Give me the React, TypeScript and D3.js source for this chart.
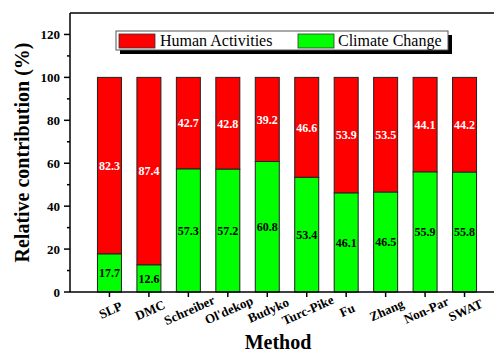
import React, { useEffect } from 'react';
import * as d3 from 'd3';

const methods = ['SLP', 'DMC', 'Schreiber', "Ol'dekop", 'Budyko', 'Turc-Pike', 'Fu', 'Zhang', 'Non-Par', 'SWAT'];
const climate = [17.7, 12.6, 57.3, 57.2, 60.8, 53.4, 46.1, 46.5, 55.9, 55.8];
const human = [82.3, 87.4, 42.7, 42.8, 39.2, 46.6, 53.9, 53.5, 44.1, 44.2];
const yTicks = [0, 20, 40, 60, 80, 100, 120];
const yMinor = [10, 30, 50, 70, 90, 110];

const W = 494;
const H = 352;
const left = 70;
const top = 13;
const bottom = 292;
const serif = 'Liberation Serif';

export default function App() {
  useEffect(() => {
    document.body.style.margin = '0';
  }, []);

  // bars sit at 1..10, the frame runs past the right edge of the picture
  const x = d3.scaleLinear().domain([0, 11]).range([left, 504]);
  const y = d3.scaleLinear().domain([0, 130]).range([bottom, top]);
  const bw = 24;

  return (
    <svg width={W} height={H} style={{ display: 'block' }}>
      <rect width={W} height={H} fill="#fff" />

      {methods.map((m, i) => {
        const cx = x(i + 1);
        const c = climate[i];
        const h = human[i];
        const ly = bottom + 18;
        return (
          <g key={m}>
            <rect x={cx - bw / 2} y={y(c + h)} width={bw} height={y(c) - y(c + h)}
              fill="#ff0000" stroke="#222" strokeWidth={1} />
            <rect x={cx - bw / 2} y={y(c)} width={bw} height={y(0) - y(c)}
              fill="#00ff00" stroke="#222" strokeWidth={1} />
            <text x={cx} y={y(c + h / 2)} dy="0.35em" textAnchor="middle" fontFamily={serif}
              fontSize={12} fontWeight="bold" fill="#fff">{h.toFixed(1)}</text>
            <text x={cx} y={y(c / 2)} dy="0.35em" textAnchor="middle" fontFamily={serif}
              fontSize={12} fontWeight="bold" fill="#000">{c.toFixed(1)}</text>
            <line x1={cx} x2={cx} y1={bottom} y2={bottom + 5} stroke="#000" strokeWidth={1.5} />
            <g transform={`translate(${cx + 1},${ly}) rotate(-24)`}>
              <text dy="0.35em" textAnchor="middle" fontFamily={serif}
                fontSize={13} fontWeight="bold">{m}</text>
            </g>
          </g>
        );
      })}

      {/* axes */}
      <line x1={left} x2={W} y1={top} y2={top} stroke="#000" strokeWidth={1.5} />
      <line x1={left} x2={W} y1={bottom} y2={bottom} stroke="#000" strokeWidth={1.5} />
      <line x1={left} x2={left} y1={top} y2={bottom} stroke="#000" strokeWidth={1.5} />
      {yTicks.map(t => (
        <g key={t}>
          <line x1={left - 6} x2={left} y1={y(t)} y2={y(t)} stroke="#000" strokeWidth={1.5} />
          <text x={left - 10} y={y(t)} dy="0.35em" textAnchor="end" fontFamily={serif}
            fontSize={13} fontWeight="bold">{t}</text>
        </g>
      ))}
      {yMinor.map(t => (
        <line key={t} x1={left - 3} x2={left} y1={y(t)} y2={y(t)} stroke="#000" strokeWidth={1.5} />
      ))}

      <g transform={`translate(29,${(top + bottom) / 2}) rotate(-90)`}>
        <text textAnchor="middle" fontFamily={serif} fontSize={20} fontWeight="bold">Relative contribution (%)</text>
      </g>
      <text x={278} y={349} textAnchor="middle" fontFamily={serif} fontSize={20} fontWeight="bold">Method</text>

      {/* legend */}
      <rect x={120} y={35} width={332} height={19} fill="#000" />
      <rect x={116} y={31} width={332} height={19} fill="#fff" stroke="#555" strokeWidth={1} />
      <rect x={119} y={34} width={36} height={14} fill="#ff0000" stroke="#333" strokeWidth={0.8} />
      <text x={160} y={46} fontFamily={serif} fontSize={16}>Human Activities</text>
      <rect x={298} y={34} width={36} height={14} fill="#00ff00" stroke="#333" strokeWidth={0.8} />
      <text x={338} y={46} fontFamily={serif} fontSize={16}>Climate Change</text>
    </svg>
  );
}
